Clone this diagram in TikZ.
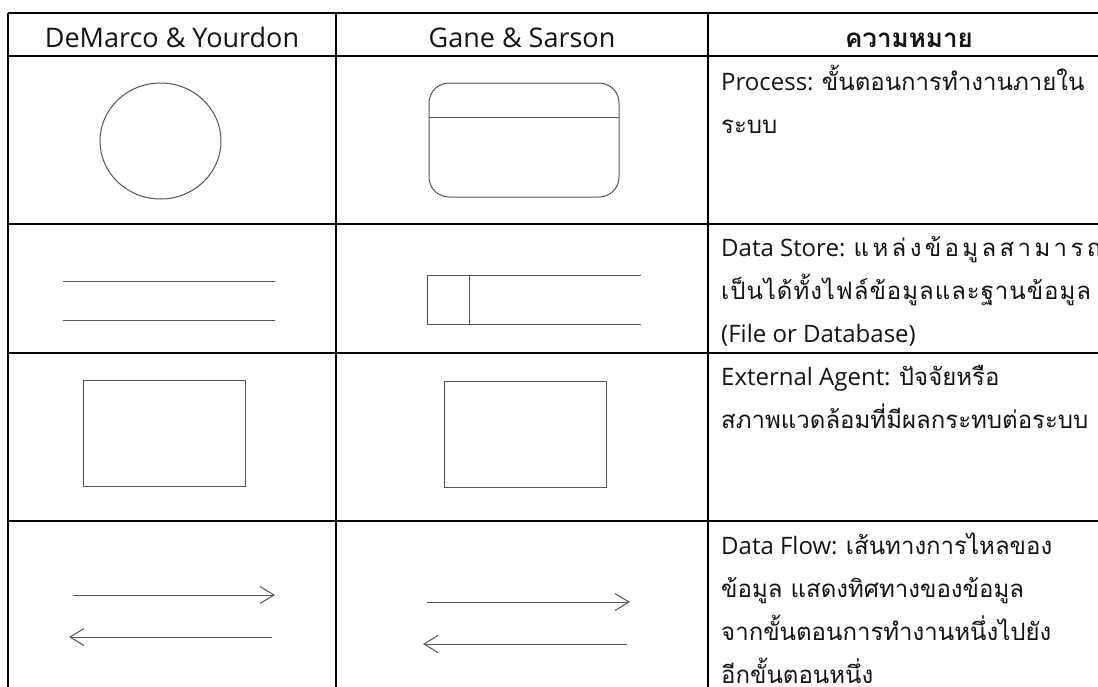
\documentclass[tikz,border=0pt]{standalone}
\usepackage{fontspec}
\setmainfont{Open Sans}
\newfontfamily\thai[Script=Thai]{Loma}
\newfontfamily\thaiwide[Script=Thai,LetterSpace=14]{Loma}
\newfontfamily\thailoose[Script=Thai,LetterSpace=4]{Loma}
\usetikzlibrary{arrows.meta}

\definecolor{rule}{rgb}{0,0,0}
\definecolor{symgray}{rgb}{0.33,0.33,0.33}
\definecolor{ink}{rgb}{0.08,0.08,0.08}

\tikzset{
  head/.style={anchor=base, inner sep=0pt, text=ink, font=\fontsize{27}{30}\selectfont},
  % multi-line cells are placed at the baseline of their last line
  cell/.style={anchor=base west, align=left, inner sep=0pt, text=ink, font=\fontsize{24}{43}\selectfont},
  sym/.style={draw=symgray, line width=1pt},
  flow/.style={sym, -{Straight Barb[length=14pt,width=17pt]}}
}

\begin{document}
\begin{tikzpicture}[x=1pt,y=-1pt]
        \useasboundingbox (0,0) rectangle (1098,686);
        \clip (0,0) rectangle (1098,686);
        \fill[white] (0,0) rectangle (1098,686);

        % table rules
        \draw[rule, line width=1.6pt] (8,13) -- (1120,13);
        \draw[rule, line width=1.6pt] (8,56) -- (1120,56);
        \draw[rule, line width=1.6pt] (8,224) -- (1120,224);
        \draw[rule, line width=1.6pt] (8,353) -- (1120,353);
        \draw[rule, line width=1.6pt] (8,521) -- (1120,521);
        \draw[rule, line width=1.6pt] (8,13) -- (8,700);
        \draw[rule, line width=1.6pt] (336,13) -- (336,700);
        \draw[rule, line width=1.6pt] (708,13) -- (708,700);

        % header
        \node[head] (hdemarco) at (172,47) {DeMarco \& Yourdon};
        \node[head] (hgane) at (522,47) {Gane \& Sarson};
        \node[head] (hmeaning) at (909,47) {\fontsize{26}{30}\thai\bfseries ความหมาย};

        % process
        \draw[sym] (160.5,141) ellipse [x radius=60.5, y radius=58];
        \draw[sym, rounded corners=20pt] (429,83) rectangle (619,197);
        \draw[sym] (429,117) -- (619,117);
        \node[cell] (tprocess) at (721,133) {Process: {\thai ขั้นตอนการทำงานภายใน}\\{\thai ระบบ}};

        % data store
        \draw[sym] (63,281) -- (275,281);
        \draw[sym] (63,320) -- (275,320);
        \draw[sym] (641,275) -- (427,275) -- (427,324) -- (641,324);
        \draw[sym] (469,275) -- (469,324);
        \node[cell] (tstore) at (721,342) {Data Store: {\thaiwide แหล่งข้อมูลสามารถ}\\{\thailoose เป็นได้ทั้งไฟล์ข้อมูลและฐานข้อมูล}\\(File or Database)};

        % external agent
        \draw[sym] (83,380) rectangle (245,486);
        \draw[sym] (444,381) rectangle (606,487);
        \node[cell] (tagent) at (721,428) {External Agent: {\thai ปัจจัยหรือ}\\{\thai สภาพแวดล้อมที่มีผลกระทบต่อระบบ}};

        % data flow
        \draw[flow] (73,595) -- (275,595);
        \draw[flow] (272,637) -- (69,637);
        \draw[flow] (427,602) -- (630,602);
        \draw[flow] (627,644) -- (423,644);
        \node[cell] (tflow) at (721,683) {Data Flow: {\thai เส้นทางการไหลของ}\\{\thai ข้อมูล แสดงทิศทางของข้อมูล}\\{\thai จากขั้นตอนการทำงานหนึ่งไปยัง}\\{\thai อีกขั้นตอนหนึ่ง}};
\end{tikzpicture}
\end{document}
